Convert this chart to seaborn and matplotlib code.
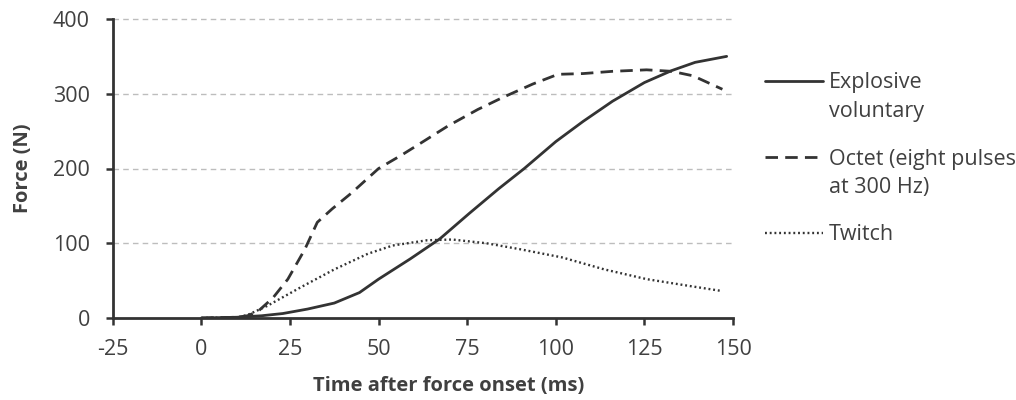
import numpy as np
import pandas as pd
import matplotlib
matplotlib.use("Agg")
import matplotlib.pyplot as plt
from matplotlib.lines import Line2D
import seaborn as sns

# Force traces (ms after force onset, N)
voluntary_t = [0, 10, 17, 23, 30, 37.5, 44.6, 50, 58.9, 67.3, 75.6, 83.9, 91.1, 100, 107.7, 116, 125, 132.7, 139.3, 148.2]
voluntary_f = [0, 1, 3, 6, 12, 20, 34, 52, 79, 106, 140, 173, 200, 236, 263, 290, 315, 331, 342, 350]

octet_t = [0, 10, 13, 16, 20.2, 24.4, 29.2, 32.7, 36.9, 42.3, 50, 56.5, 61.9, 69.6, 78, 85, 93.5, 100.6, 107.7, 116, 125.6, 132.7, 138.7, 147]
octet_f = [0, 1, 3, 9, 27, 52, 92, 128, 146, 167, 200, 218, 234, 257, 279, 295, 313, 326, 327, 330, 332, 330, 324, 306]

twitch_t = [0, 10, 13, 18.5, 28, 37.5, 47, 54, 63.7, 70.8, 80.4, 89.9, 101.8, 113.7, 125.6, 137.5, 147]
twitch_f = [0, 1, 4, 16, 41, 65, 86, 97, 104, 105, 100, 92, 81, 65, 52, 43, 36]

series_names = ["Explosive voluntary", "Octet (eight pulses at 300 Hz)", "Twitch"]
legend_lines = [["Explosive", "voluntary"], ["Octet (eight pulses", "at 300 Hz)"], ["Twitch"]]
x_ticks = [-25, 0, 25, 50, 75, 100, 125, 150]
y_ticks = [0, 100, 200, 300, 400]

df = pd.concat([
    pd.DataFrame({"t": voluntary_t, "F": voluntary_f, "s": series_names[0]}),
    pd.DataFrame({"t": octet_t, "F": octet_f, "s": series_names[1]}),
    pd.DataFrame({"t": twitch_t, "F": twitch_f, "s": series_names[2]}),
])

sns.set_theme(style="white")
plt.rcParams["font.family"] = ["Open Sans", "DejaVu Sans"]

ink = "#333333"
text_c = "#404040"

fig = plt.figure(figsize=(10.16, 4.0), dpi=100)
ax = fig.add_axes([0.111, 0.205, 0.6105, 0.7475])

styles = {
    series_names[0]: dict(ls="-", lw=2.0),
    series_names[1]: dict(ls=(0, (4.5, 2.6)), lw=2.0),
    series_names[2]: dict(ls=(0, (0.8, 1.2)), lw=1.7),
}

for name in series_names:
    sub = df[df["s"] == name]
    sns.lineplot(data=sub, x="t", y="F", ax=ax, color=ink, sort=False,
                 estimator=None, linestyle=styles[name]["ls"],
                 linewidth=styles[name]["lw"], legend=False)

ax.set_xlim(-25, 150)
ax.set_ylim(0, 400)
ax.set_xticks(x_ticks)
ax.set_yticks(y_ticks)
ax.set_xticklabels([str(v) for v in x_ticks])
ax.set_yticklabels([str(v) for v in y_ticks])

for v in y_ticks[1:]:
    ax.axhline(v, color="#bdbdbd", lw=1.0, ls=(0, (4, 3)), zorder=0, clip_on=False)

for side in ["top", "right"]:
    ax.spines[side].set_visible(False)
for side in ["left", "bottom"]:
    ax.spines[side].set_color(ink)
    ax.spines[side].set_linewidth(2.0)

ax.tick_params(axis="both", direction="out", length=5, width=1.8, color=ink,
               labelsize=15.5, labelcolor=text_c)
ax.tick_params(axis="x", pad=10)
ax.tick_params(axis="y", pad=11.5)
ax.tick_params(axis="both", which="both", bottom=True, left=True)

ax.set_xlabel("Time after force onset (ms)", fontsize=14.5, fontweight="bold",
              color=text_c)
ax.set_ylabel("Force (N)", fontsize=14.5, fontweight="bold", color=text_c)
ax.xaxis.set_label_coords(0.542, -0.194)
ax.yaxis.set_label_coords(-0.128, 0.5)

# Legend drawn at the right of the plot: handle y and text baselines (px from top)
handle_y = [81, 157, 233]
baselines = [[88, 117], [165, 193], [240]]
x0, x1, xt = 765 / 1016, 823 / 1016, 829 / 1016
for name, hy, rows, bls in zip(series_names, handle_y, legend_lines, baselines):
    fig.add_artist(Line2D([x0, x1], [1 - hy / 400] * 2, transform=fig.transFigure,
                          color=ink, linestyle=styles[name]["ls"],
                          linewidth=styles[name]["lw"]))
    for row, b in zip(rows, bls):
        fig.text(xt, 1 - b / 400, row, ha="left", va="baseline", fontsize=15.5,
                 color=text_c)

fig.savefig("out.png", dpi=100)
